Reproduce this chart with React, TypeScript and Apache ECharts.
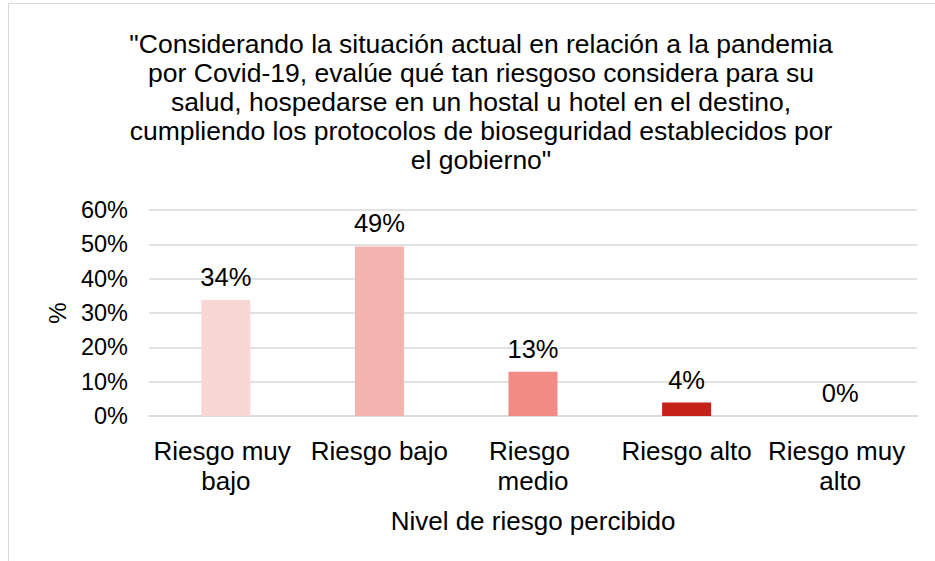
import React, { useEffect, useRef } from "react";
import * as echarts from "echarts";

const titleLines = [
  "\"Considerando la situación actual en relación a la pandemia",
  "por Covid-19, evalúe qué tan riesgoso considera para su",
  "salud, hospedarse en un hostal u hotel en el destino,",
  "cumpliendo los protocolos de bioseguridad establecidos por",
  "el gobierno\"",
];
const categories = ["Riesgo muy bajo", "Riesgo bajo", "Riesgo medio", "Riesgo alto", "Riesgo muy alto"];
const values = [33.8, 49.4, 12.9, 3.9, 0];
const barColors = ["#f9d7d5", "#f5b3b0", "#f28b85", "#c42218", "#8b0000"];
const yTicks = [0, 10, 20, 30, 40, 50, 60];
const xAxisName = "Nivel de riesgo percibido";
const yAxisName = "%";

const FONT = "'Liberation Sans', Arial, sans-serif";

export default function App() {
  const ref = useRef<HTMLDivElement>(null);
  useEffect(() => {
    document.body.style.margin = "0";
    const chart = echarts.init(ref.current!, undefined, { renderer: "svg" });
    chart.setOption({
      animation: false,
      backgroundColor: "#ffffff",
      textStyle: { fontFamily: FONT },
      title: {
        text: titleLines.join("\n"),
        left: 476,
        top: 24,
        textAlign: "center",
        textStyle: {
          fontFamily: FONT,
          fontSize: 26.5,
          fontWeight: "normal",
          lineHeight: 29,
          color: "#000000",
        },
      },
      graphic: [
        {
          type: "rect",
          shape: { x: 8.5, y: 3.5, width: 1000, height: 700 },
          style: { fill: "none", stroke: "#d9d9d9", lineWidth: 1 },
          silent: true,
        },
      ],
      grid: { left: 149, right: 18, top: 210, bottom: 145 },
      xAxis: {
        type: "category",
        data: categories,
        name: xAxisName,
        nameLocation: "middle",
        nameGap: 92,
        nameTextStyle: { fontFamily: FONT, fontSize: 26, color: "#000" },
        axisLine: { show: true, lineStyle: { color: "#d9d9d9", width: 1.5 } },
        axisTick: { show: false },
        axisLabel: {
          fontFamily: FONT,
          fontSize: 26,
          lineHeight: 30,
          color: "#000",
          margin: 20,
          interval: 0,
          width: 152,
          overflow: "break",
        },
      },
      yAxis: {
        type: "value",
        min: 0,
        max: 60,
        interval: 10,
        name: yAxisName,
        nameLocation: "middle",
        nameGap: 80,
        nameRotate: 90,
        nameTextStyle: { fontFamily: FONT, fontSize: 24, color: "#000" },
        axisLine: { show: false },
        axisTick: { show: false },
        axisLabel: {
          fontFamily: FONT,
          fontSize: 23.5,
          color: "#000",
          margin: 21,
          formatter: (v: number) => (yTicks.includes(v) ? `${v}%` : ""),
        },
        splitLine: { lineStyle: { color: "#d9d9d9", width: 1.5 } },
      },
      series: [
        {
          type: "bar",
          barWidth: 49,
          data: values.map((v, i) => ({ value: v, itemStyle: { color: barColors[i] } })),
          label: {
            show: true,
            position: "top",
            distance: 10,
            fontFamily: FONT,
            fontSize: 25.5,
            color: "#000",
            formatter: (p: any) => `${Math.round(p.value)}%`,
          },
        },
      ],
    });
    return () => chart.dispose();
  }, []);
  return <div ref={ref} style={{ width: 935, height: 561 }} />;
}
